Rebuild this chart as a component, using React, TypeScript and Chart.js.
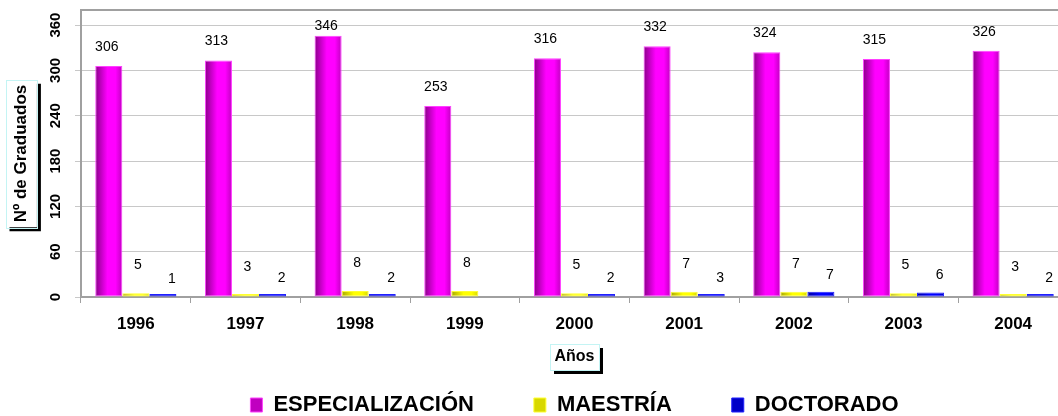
import React, { useEffect, useRef } from 'react';
import { Chart, registerables } from 'chart.js';

Chart.register(...registerables);

// ---- data ----
const years = ['1996', '1997', '1998', '1999', '2000', '2001', '2002', '2003', '2004'];
const especializacion = [306, 313, 346, 253, 316, 332, 324, 315, 326];
const maestria = [5, 3, 8, 8, 5, 7, 7, 5, 3];
const doctorado = [1, 2, 2, null, 2, 3, 7, 6, 2];
const seriesNames = ['ESPECIALIZACIÓN', 'MAESTRÍA', 'DOCTORADO'];
const yTicks = [0, 60, 120, 180, 240, 300, 360];
const yMax = 380;
const yTitle = 'Nº de Graduados';
const xTitle = 'Años';

// ---- style ----
const FONT = '"Liberation Sans", Arial, sans-serif';
const CAT_PCT = 0.74;
const Y_TITLE_PAD = 11;
const X_AXIS_H = 37;
const X_TITLE_PAD_B = -32.6;

const palettes = [
  { solid: '#ff00ff', border: '#ff40ff', stops: ['#8a008a', '#ff00ff', '#ff00ff', '#c000c0'] },
  { solid: '#ffff00', border: '#ffff30', stops: ['#a8a800', '#ffff00', '#ffff00', '#d8d800'] },
  { solid: '#0000ff', border: '#2020ff', stops: ['#00009a', '#0000ff', '#0000ff', '#0000c8'] },
];

function barFill(pal: any) {
  return (ctx: any) => {
    if (ctx.type !== 'data') return pal.solid;
    const chart = ctx.chart;
    const xs = chart.scales.x;
    if (!xs || !chart.chartArea) return pal.solid;
    const n = chart.data.labels.length;
    const nd = chart.data.datasets.length;
    const catW = xs.width / n;
    const barW = (catW * CAT_PCT) / nd;
    const center = xs.getPixelForValue(ctx.dataIndex) + (ctx.datasetIndex - (nd - 1) / 2) * barW;
    const g = chart.ctx.createLinearGradient(center - barW / 2, 0, center + barW / 2, 0);
    g.addColorStop(0, pal.stops[0]);
    g.addColorStop(0.45, pal.stops[1]);
    g.addColorStop(0.75, pal.stops[2]);
    g.addColorStop(1, pal.stops[3]);
    return g;
  };
}

function drawBox(ctx: any, cx: number, cy: number, w: number, h: number) {
  ctx.fillStyle = '#000';
  ctx.fillRect(cx - w / 2 + 4, cy - h / 2 + 4, w, h);
  ctx.fillStyle = '#fff';
  ctx.fillRect(cx - w / 2, cy - h / 2, w, h);
  ctx.strokeStyle = '#c4f4f4';
  ctx.lineWidth = 1;
  ctx.strokeRect(Math.round(cx - w / 2) + 0.5, Math.round(cy - h / 2) + 0.5, Math.round(w), Math.round(h));
}

const framePlugin = {
  id: 'frame',
  beforeDraw(chart: any) {
    const { ctx } = chart;
    const ys = chart.scales.y;
    const xs = chart.scales.x;
    ctx.save();
    // y title box
    ctx.font = `bold 17px ${FONT}`;
    const yw = ctx.measureText(yTitle).width;
    const ylh = 17 * 1.2;
    drawBox(ctx, ys.left + ylh / 2 + Y_TITLE_PAD, (ys.top + ys.bottom) / 2, ylh + 11, yw + 10);
    // x title box
    ctx.font = `bold 16px ${FONT}`;
    const xw = ctx.measureText(xTitle).width;
    const xlh = 16 * 1.2;
    drawBox(ctx, (xs.left + xs.right) / 2, xs.bottom - xlh / 2 - X_TITLE_PAD_B, xw + 9, 26);
    ctx.restore();
  },
  afterDraw(chart: any) {
    const { ctx, chartArea } = chart;
    ctx.save();
    ctx.strokeStyle = '#a0a0a0';
    ctx.lineWidth = 2;
    ctx.beginPath();
    ctx.moveTo(chartArea.left, chartArea.top);
    ctx.lineTo(chartArea.right, chartArea.top);
    ctx.stroke();
    ctx.restore();
  },
};

const labelPlugin = {
  id: 'valueLabels',
  afterDatasetsDraw(chart: any) {
    const { ctx, chartArea } = chart;
    const ys = chart.scales.y;
    ctx.save();
    ctx.font = `14px ${FONT}`;
    ctx.fillStyle = '#000';
    ctx.textAlign = 'center';
    ctx.textBaseline = 'middle';
    chart.data.datasets.forEach((ds: any, di: number) => {
      const meta = chart.getDatasetMeta(di);
      meta.data.forEach((el: any, i: number) => {
        const v = ds.data[i];
        if (v == null || v === 0) return;
        const top = ys.getPixelForValue(v);
        let x = el.x;
        let y;
        if (di === 0) {
          x -= 2;
          y = Math.max(top - 19, chartArea.top + 16);
        } else if (di === 1) {
          x += 2;
          y = top - 28;
        } else {
          x += 9;
          y = top - 17;
        }
        ctx.fillText(String(v), x, y);
      });
    });
    ctx.restore();
  },
};

export default function App() {
  const ref = useRef<HTMLCanvasElement | null>(null);

  useEffect(() => {
    if (!ref.current) return;
    const seriesData = [especializacion, maestria, doctorado];
    const chart = new Chart(ref.current, {
      type: 'bar',
      data: {
        labels: years,
        datasets: seriesData.map((d, i) => ({
          label: seriesNames[i],
          data: d,
          backgroundColor: barFill(palettes[i]),
          borderColor: palettes[i].border,
          borderWidth: 1,
          borderSkipped: false,
          minBarLength: 3,
        })),
      },
      options: {
        responsive: false,
        animation: false,
        devicePixelRatio: 1,
        layout: { padding: { top: 10, left: 0, right: 0, bottom: -10 } },
        datasets: { bar: { categoryPercentage: CAT_PCT, barPercentage: 1 } },
        plugins: {
          legend: {
            position: 'bottom',
            fullSize: false,
            labels: {
              boxWidth: 12,
              boxHeight: 14,
              padding: 60,
              color: '#000',
              font: { family: FONT, size: 22, weight: 'bold' },
            },
          },
          tooltip: { enabled: false },
        },
        scales: {
          x: {
            grid: { display: true, drawOnChartArea: false, drawTicks: true, tickLength: 6, offset: true, color: '#a0a0a0' },
            border: { display: true, color: '#a0a0a0', width: 2 },
            ticks: {
              color: '#000',
              padding: 11,
              autoSkip: false,
              maxRotation: 0,
              font: { family: FONT, size: 17, weight: 'bold' },
            },
            title: {
              display: true,
              text: xTitle,
              color: '#000',
              font: { family: FONT, size: 16, weight: 'bold' },
              padding: { top: 0, bottom: X_TITLE_PAD_B },
            },
            afterFit: (s: any) => {
              s.height = X_AXIS_H;
              s.paddingLeft = 0;
              s.paddingRight = 0;
            },
          },
          y: {
            min: 0,
            max: yMax,
            afterBuildTicks: (s: any) => {
              s.ticks = yTicks.map((v) => ({ value: v }));
            },
            ticks: {
              color: '#000',
              minRotation: 90,
              maxRotation: 90,
              crossAlign: 'center',
              padding: 7,
              font: { family: FONT, size: 15, weight: 'bold' },
            },
            grid: { color: '#c8c8c8', tickLength: 6 },
            border: { display: true, color: '#a0a0a0', width: 2 },
            title: {
              display: true,
              text: yTitle,
              color: '#000',
              font: { family: FONT, size: 17, weight: 'bold' },
              padding: { top: Y_TITLE_PAD, bottom: 0 },
            },
            afterFit: (s: any) => {
              s.width = 81;
              s.paddingTop = 0;
              s.paddingBottom = 0;
            },
          },
        },
      } as any,
      plugins: [framePlugin, labelPlugin],
    });
    return () => chart.destroy();
  }, []);

  return (
    <div
      style={{
        position: 'fixed',
        left: 0,
        top: 0,
        width: 1058,
        height: 416,
        overflow: 'hidden',
        background: '#fff',
      }}
    >
      <canvas ref={ref} width={1068} height={416} style={{ display: 'block', width: 1068, height: 416 }} />
    </div>
  );
}
